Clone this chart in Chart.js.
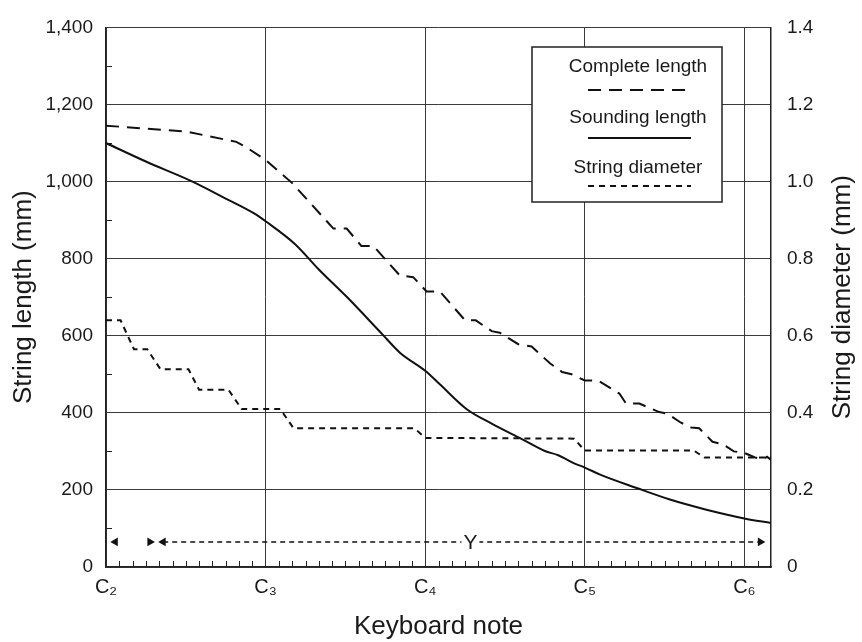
<!DOCTYPE html>
<html>
<head>
<meta charset="utf-8">
<script src="https://cdn.jsdelivr.net/npm/chart.js@4.4.1/dist/chart.umd.min.js"></script>
<style>
html, body { margin: 0; padding: 0; background: #fff; }
canvas { display: block; }
</style>
</head>
<body>
<canvas id="chart" width="862" height="642"></canvas>
<script>
// semitones counted from C2
var noteTicks = [0, 12, 24, 36, 48];
var noteLabels = ['C₂', 'C₃', 'C₄', 'C₅', 'C₆'];

var soundingX  = [0, 3, 6.5, 9, 11.2, 12, 14.2, 16, 18.1, 20.8, 22.1, 24, 25.1, 27.1, 29, 31.2, 33, 34, 35.2, 36, 37.2, 39.9, 42.4, 45, 48, 50];
var soundingMm = [1100, 1052, 1000, 956, 916, 897, 838, 772, 701, 603, 556, 509, 474, 410, 372, 333, 301, 290, 269, 258, 239, 205, 175, 150, 126, 114];

var completeX  = [0, 6, 9.8, 10.5, 12, 14, 16.6, 17.1, 18.1, 19.2, 20.1, 22.1, 23.1, 24.1, 25.1, 27, 27.8, 29, 29.6, 31, 32, 33.4, 34.3, 35, 36, 37, 38.6, 39.1, 40.1, 41.6, 42.2, 43.2, 44, 44.6, 45.6, 46.4, 47.2, 48, 48.8, 49.4, 49.7, 50];
var completeMm = [1145, 1130, 1103, 1090, 1056, 996, 897, 878, 878, 833, 833, 756, 752, 715, 715, 640, 640, 612, 608, 578, 572, 528, 506, 500, 484, 484, 450, 424, 424, 402, 398, 375, 362, 360, 325, 318, 300, 296, 284, 280, 286, 278];

var diameterX  = [0, 1.1, 2.1, 3.1, 4.1, 6.2, 7.0, 9.2, 10.2, 13.1, 14.1, 23.2, 24, 35.2, 36, 44.2, 45, 50];
var diameterMm = [0.64, 0.64, 0.565, 0.565, 0.513, 0.513, 0.46, 0.46, 0.41, 0.41, 0.36, 0.36, 0.335, 0.333, 0.302, 0.302, 0.284, 0.284];

// "Y" range marker
var yLevel = 65;
var yRangeX = [4.3, 49.2];
var xRangeX = [0.7, 3.3];
var yLabelX = 27.4;

function pts(xs, ys) {
    var out = [];
    for (var i = 0; i < xs.length; i++) out.push({x: xs[i], y: ys[i]});
    return out;
}

var FONT = "'Liberation Sans', Arial, Helvetica, sans-serif";
Chart.defaults.font.family = FONT;
Chart.defaults.color = '#1a1a1a';

var innerTicks = {
    id: 'innerTicks',
    beforeDatasetsDraw: function(chart) {
        var ctx = chart.ctx, a = chart.chartArea;
        var xs = chart.scales.x, ys = chart.scales.y;
        ctx.save();
        ctx.strokeStyle = '#222';
        ctx.lineWidth = 1;
        ctx.beginPath();
        for (var s = 1; s < 50; s++) {
            if (s % 12 === 0) continue;
            var px = Math.round(xs.getPixelForValue(s)) + 0.5;
            ctx.moveTo(px, a.bottom);
            ctx.lineTo(px, a.bottom - 6);
        }
        for (var v = 100; v < 1400; v += 200) {
            var py = Math.round(ys.getPixelForValue(v)) + 0.5;
            ctx.moveTo(a.left, py);
            ctx.lineTo(a.left + 6, py);
        }
        ctx.stroke();
        ctx.restore();
    }
};

var extras = {
    id: 'extras',
    afterDatasetsDraw: function(chart) {
        var ctx = chart.ctx, a = chart.chartArea;
        var xs = chart.scales.x, ys = chart.scales.y;
        ctx.save();

        // Y label on the range line
        var lx = xs.getPixelForValue(yLabelX), ly = ys.getPixelForValue(yLevel);
        ctx.font = '21px ' + FONT;
        ctx.fillStyle = '#fff';
        ctx.fillRect(lx - 9, ly - 11, 18, 22);
        ctx.fillStyle = '#1a1a1a';
        ctx.textAlign = 'center';
        ctx.textBaseline = 'middle';
        ctx.fillText('Y', lx, ly + 1);

        // legend box
        var bx = 532, by = 47, bw = 190, bh = 155;
        ctx.fillStyle = '#fff';
        ctx.fillRect(bx, by, bw, bh);
        ctx.strokeStyle = '#222';
        ctx.lineWidth = 1.5;
        ctx.setLineDash([]);
        ctx.strokeRect(bx, by, bw, bh);
        var cx = bx + bw / 2 + 11;
        ctx.font = '19px ' + FONT;
        ctx.fillStyle = '#1a1a1a';
        var order = [1, 0, 2];
        for (var i = 0; i < 3; i++) {
            var ds = chart.data.datasets[order[i]];
            var ty = by + 20 + i * 50.5;
            ctx.fillText(ds.label, cx, ty);
            var sy = by + 43 + i * 48;
            ctx.strokeStyle = ds.borderColor;
            ctx.lineWidth = ds.borderWidth;
            ctx.setLineDash(ds.borderDash || []);
            ctx.beginPath();
            ctx.moveTo(cx - 50, sy);
            ctx.lineTo(cx + 53, sy);
            ctx.stroke();
        }
        ctx.setLineDash([]);

        // right axis title, reading upwards like the left one
        ctx.font = '26px ' + FONT;
        ctx.fillStyle = '#1a1a1a';
        ctx.translate(843, (a.top + a.bottom) / 2);
        ctx.rotate(-Math.PI / 2);
        ctx.fillText('String diameter (mm)', 0, 0);
        ctx.restore();
    }
};

var ctx = document.getElementById('chart');
var chart = new Chart(ctx, {
    type: 'line',
    data: {
        datasets: [
            {
                label: 'Sounding length',
                data: pts(soundingX, soundingMm),
                borderColor: '#111',
                borderWidth: 2,
                pointRadius: 0,
                cubicInterpolationMode: 'monotone',
                yAxisID: 'y'
            },
            {
                label: 'Complete length',
                data: pts(completeX, completeMm),
                borderColor: '#111',
                borderWidth: 2,
                borderDash: [13, 8],
                pointRadius: 0,
                tension: 0,
                yAxisID: 'y'
            },
            {
                label: 'String diameter',
                data: pts(diameterX, diameterMm),
                borderColor: '#111',
                borderWidth: 2,
                borderDash: [6, 5],
                pointRadius: 0,
                tension: 0,
                yAxisID: 'y1'
            },
            {
                label: 'Y range',
                data: pts(yRangeX, [yLevel, yLevel]),
                borderColor: '#111',
                backgroundColor: '#111',
                borderWidth: 1.5,
                borderDash: [5, 4],
                pointStyle: 'triangle',
                pointRadius: 5,
                pointRotation: [270, 90],
                pointBorderWidth: 0,
                yAxisID: 'y'
            },
            {
                label: 'X range',
                data: pts(xRangeX, [yLevel, yLevel]),
                borderColor: '#111',
                backgroundColor: '#111',
                showLine: false,
                pointStyle: 'triangle',
                pointRadius: 5,
                pointRotation: [270, 90],
                pointBorderWidth: 0,
                yAxisID: 'y'
            }
        ]
    },
    options: {
        responsive: false,
        animation: false,
        layout: { padding: { top: 20, left: 0, right: 0, bottom: 0 } },
        plugins: {
            legend: { display: false },
            tooltip: { enabled: false }
        },
        scales: {
            x: {
                type: 'linear',
                position: 'bottom',
                min: 0,
                max: 50,
                afterBuildTicks: function(s) {
                    s.ticks = noteTicks.map(function(v) { return {value: v}; });
                },
                ticks: {
                    autoSkip: false,
                    maxRotation: 0,
                    padding: 8,
                    font: { size: 20 },
                    callback: function(v) {
                        var i = noteTicks.indexOf(v);
                        return i < 0 ? '' : noteLabels[i];
                    }
                },
                grid: { color: '#3a3a3a', lineWidth: 1, drawTicks: false },
                border: { color: '#222', width: 1.5 },
                title: { display: true, text: 'Keyboard note', font: { size: 26 }, padding: { top: 0, bottom: 0 } },
                afterFit: function(s) { s.height = 75; }
            },
            y: {
                position: 'left',
                min: 0,
                max: 1400,
                ticks: {
                    stepSize: 200,
                    padding: 13,
                    font: { size: 19 },
                    callback: function(v) { return v.toLocaleString('en-US'); }
                },
                grid: { color: '#3a3a3a', lineWidth: 1, drawTicks: false },
                border: { color: '#222', width: 1.5 },
                title: { display: true, text: 'String length (mm)', font: { size: 26 }, padding: { top: 8, bottom: 0 } },
                afterFit: function(s) { s.width = 106; }
            },
            y1: {
                position: 'right',
                min: 0,
                max: 1.4,
                ticks: {
                    stepSize: 0.2,
                    padding: 16,
                    font: { size: 19 },
                    callback: function(v) { return v === 0 ? '0' : v.toFixed(1); }
                },
                grid: { drawOnChartArea: false, drawTicks: false },
                border: { color: '#222', width: 1.5 },
                afterFit: function(s) { s.width = 91; }
            }
        }
    },
    plugins: [innerTicks, extras]
});
</script>
</body>
</html>
